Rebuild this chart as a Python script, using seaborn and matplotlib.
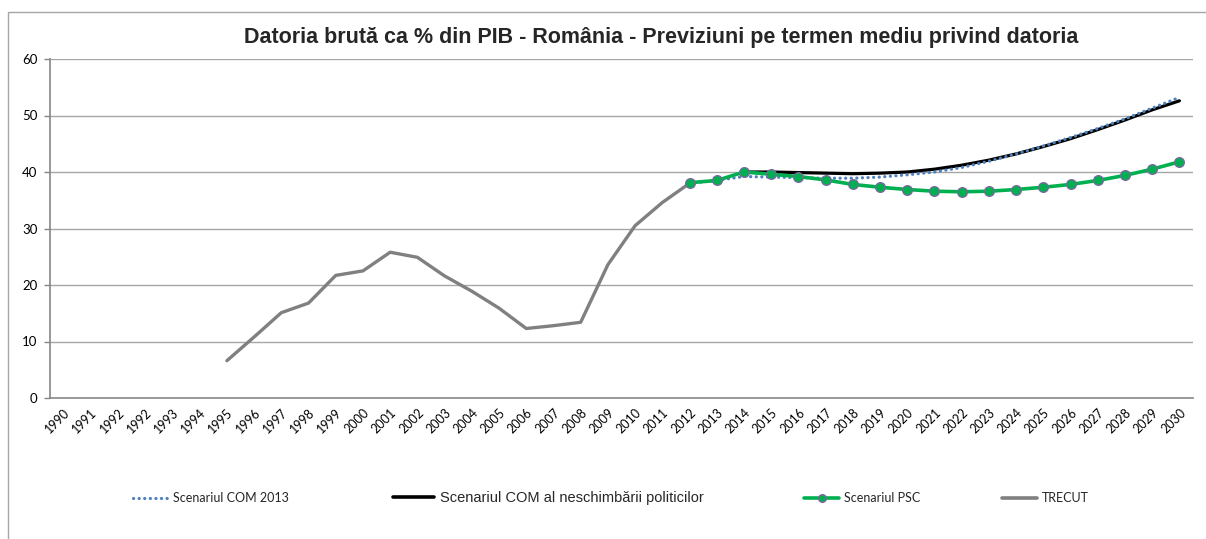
import matplotlib
matplotlib.use("Agg")
import matplotlib.pyplot as plt
import numpy as np
import pandas as pd
import seaborn as sns
from matplotlib.lines import Line2D
from matplotlib.patches import Rectangle

# ---------------- data ----------------
categories = ["1990", "1991", "1992", "1992", "1993", "1994", "1995", "1996", "1997",
              "1998", "1999", "2000", "2001", "2002", "2003", "2004", "2005", "2006",
              "2007", "2008", "2009", "2010", "2011", "2012", "2013", "2014", "2015",
              "2016", "2017", "2018", "2019", "2020", "2021", "2022", "2023", "2024",
              "2025", "2026", "2027", "2028", "2029", "2030"]

trecut_start = "1995"
trecut_values = [6.6, 10.8, 15.1, 16.8, 21.7, 22.5, 25.8, 24.9, 21.6, 18.9,
                 15.9, 12.3, 12.8, 13.4, 23.6, 30.5, 34.6, 38.0]

psc_start = "2012"
psc_values = [38.1, 38.5, 40.0, 39.6, 39.2, 38.6, 37.8, 37.3, 36.9, 36.6,
              36.5, 36.6, 36.9, 37.3, 37.8, 38.5, 39.4, 40.5, 41.8]

com_policy_start = "2014"
com_policy_values = [40.0, 40.0, 39.9, 39.8, 39.7, 39.8, 40.0, 40.5, 41.2,
                     42.1, 43.2, 44.5, 45.9, 47.5, 49.2, 51.0, 52.6]

com2013_start = "2012"
com2013_values = [38.0, 38.5, 39.2, 39.1, 39.0, 38.9, 38.9, 39.1, 39.5, 40.0,
                  40.8, 41.9, 43.2, 44.6, 46.1, 47.7, 49.4, 51.3, 53.2]

title = "Datoria brută ca % din PIB - România - Previziuni pe termen mediu privind datoria"
label_com2013 = "Scenariul COM 2013"
label_policy = "Scenariul COM al neschimbării politicilor"
label_psc = "Scenariul PSC"
label_trecut = "TRECUT"
y_ticks = [0, 10, 20, 30, 40, 50, 60]


def series_frame(start, values):
    i0 = len(categories) - 1 - categories[::-1].index(start)
    return pd.DataFrame({"pos": np.arange(i0, i0 + len(values)), "val": values})


df_trecut = series_frame(trecut_start, trecut_values)
df_psc = series_frame(psc_start, psc_values)
df_policy = series_frame(com_policy_start, com_policy_values)
df_2013 = series_frame(com2013_start, com2013_values)

# ---------------- styling ----------------
sns.set_theme(style="white")
plt.rcParams["font.family"] = ["Lato", "DejaVu Sans"]

W, H = 1206, 539
fig = plt.figure(figsize=(W / 100, H / 100), dpi=100)
fig.patch.set_facecolor("white")

# outer chart frame (cropped at right and bottom)
fig.patches.append(Rectangle((8 / W, -0.2), 2.0, (539 - 12) / H + 0.2,
                             transform=fig.transFigure, fill=False,
                             edgecolor="#A6A6A6", linewidth=1.0))

ax = fig.add_axes([50 / W, (H - 398) / H, 1143 / W, 339 / H])

grid_c = "#A6A6A6"
axis_c = "#868686"
blue = "#4F81BD"
green = "#00B050"
gray = "#808080"
dot_style = (0, (0.05, 1.7))

sns.lineplot(data=df_trecut, x="pos", y="val", ax=ax, color=gray, linewidth=2.4,
             label=None, zorder=3)
sns.lineplot(data=df_2013, x="pos", y="val", ax=ax, color=blue, linewidth=2.3,
             linestyle=dot_style, dash_capstyle="round", label=None, zorder=4)
sns.lineplot(data=df_policy, x="pos", y="val", ax=ax, color="black", linewidth=2.3,
             label=None, zorder=3)
sns.lineplot(data=df_psc, x="pos", y="val", ax=ax, color=green, linewidth=2.6,
             marker="o", markersize=7, markerfacecolor=green,
             markeredgecolor="#8064A2", markeredgewidth=0.9, label=None, zorder=5)

if ax.get_legend() is not None:
    ax.get_legend().remove()

n = len(categories)
ax.set_xlim(-0.5, n - 0.5)
ax.set_ylim(0, 60)
ax.set_yticks(y_ticks)
ax.set_yticklabels([str(v) for v in y_ticks], fontsize=9.5, color="#000000")
ax.set_xticks(np.arange(n))
ax.set_xticklabels(categories, rotation=45, ha="right", rotation_mode="anchor",
                   fontsize=9, color="#000000")
ax.set_xticks(np.arange(n + 1) - 0.5, minor=True)
ax.tick_params(axis="x", which="major", length=0, pad=6)
ax.tick_params(axis="x", which="minor", length=4, width=1, color=axis_c, direction="out")
ax.tick_params(axis="y", which="major", length=4, width=1, color=axis_c,
               direction="out", pad=5, left=True)
ax.set_xlabel("")
ax.set_ylabel("")

for y in y_ticks[1:]:
    ax.axhline(y, color=grid_c, linewidth=1.0, zorder=1)

for s in ["top", "right"]:
    ax.spines[s].set_visible(False)
for s in ["left", "bottom"]:
    ax.spines[s].set_visible(True)
    ax.spines[s].set_color(axis_c)
    ax.spines[s].set_linewidth(1.2)

fig.text(661 / W, 1 - 37 / H, title, ha="center", va="center", fontsize=15.5,
         fontweight="bold", family=["Liberation Sans", "DejaVu Sans"])

# ---------------- legend (four entries placed like the original) ----------------
handles = [
    (Line2D([], [], color=blue, linewidth=2.3, linestyle=dot_style,
            dash_capstyle="round"), label_com2013, 133, 9, "Lato"),
    (Line2D([], [], color="black", linewidth=2.6), label_policy, 393, 10.5,
     "Liberation Sans"),
    (Line2D([], [], color=green, linewidth=2.6, marker="o", markersize=5.5,
            markerfacecolor=green, markeredgecolor="#8064A2"), label_psc, 804, 9, "Lato"),
    (Line2D([], [], color=gray, linewidth=2.6), label_trecut, 1002, 9, "Lato"),
]
for h, lab, xpx, fs, fam in handles:
    leg = fig.legend([h], [lab], loc="center left",
                     bbox_to_anchor=(xpx / W, 1 - 498 / H),
                     bbox_transform=fig.transFigure, frameon=False,
                     handlelength=2.8, handletextpad=0.4, borderpad=0,
                     borderaxespad=0,
                     prop={"size": fs, "family": [fam, "DejaVu Sans"]})

fig.savefig("out.png", dpi=100, facecolor="white")
